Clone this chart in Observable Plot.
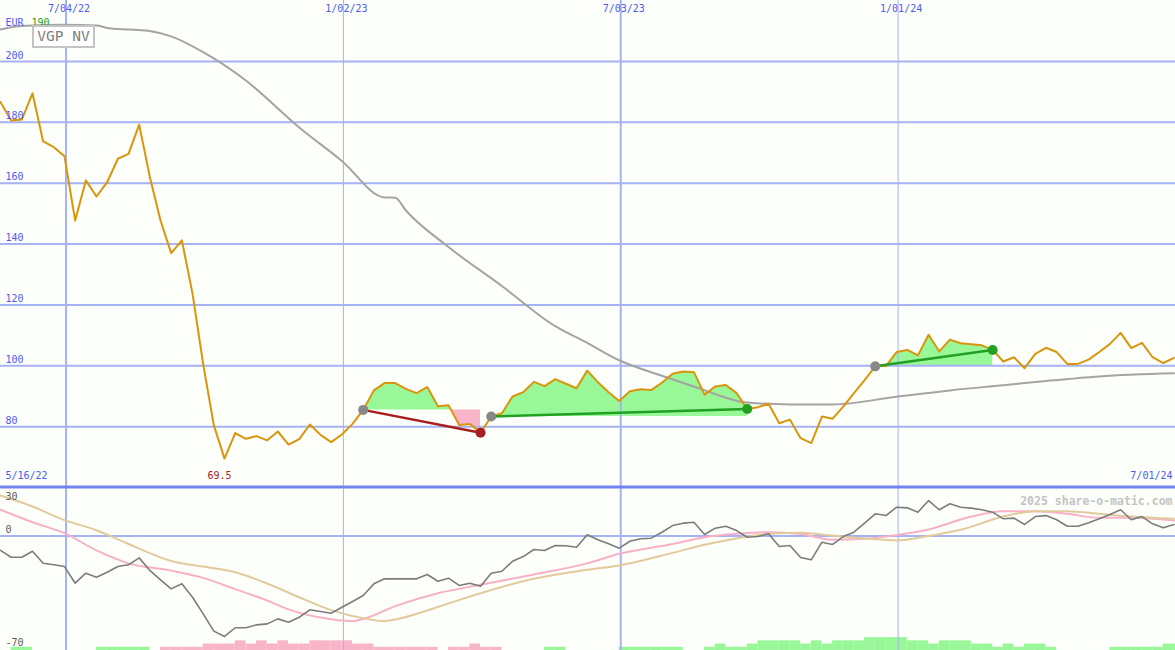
<!DOCTYPE html>
<html><head><meta charset="utf-8">
<script src="https://cdn.jsdelivr.net/npm/d3@7"></script>
<script src="https://cdn.jsdelivr.net/npm/@observablehq/plot@0.6"></script>
<style>
html,body{margin:0;padding:0;background:#fcfffa;}
#chart{position:relative;width:1175px;height:650px;overflow:hidden;background:#fcfffa;}
#chart svg{display:block;}
#badge{position:absolute;left:32px;top:25px;width:59px;height:19px;border:2px solid #c4c4c4;background:#ffffff;color:#808080;font:14.5px "DejaVu Sans Mono",monospace;line-height:19px;text-align:center;}
</style></head><body><div id="chart"><div id="badge">VGP NV</div></div>
<script>
// ---------- data ----------
const startDate = "2022-05-22";
const endDate = "2024-07-01";
const currency = "EUR";
const currencyNote = "190";
const edgeLabels = ["5/16/22", "7/01/24"];
const credit = "2025 share-o-matic.com";

const price = [186.6,180.6,180.9,189.5,173.7,171.8,168.8,147.7,160.9,155.6,
 160.3,168,169.6,179.2,162,147.7,137,141.2,123.7,100.5,
 80.4,69.5,77.9,76,76.9,75.5,78.4,74.1,75.9,80.7,
 77.3,74.9,77.4,80.9,85.5,91.9,94.3,94.3,92.4,91,
 93,86.7,87,80.5,80.9,78,83.3,84.4,89.9,91.3,
 94.7,93.3,95.6,94.1,92.6,98.4,94.6,91.3,88.4,91.6,
 92.3,92,94.4,97.4,98.1,97.9,90.5,93.2,93.7,91,
 85.8,86.4,87.5,81.1,82.3,76.2,74.6,83.3,82.6,86.6,
 91,95.3,99.8,99.9,104.5,105.2,103.4,110.2,104.7,108.6,
 107.4,107.1,106.7,105.2,101.4,102.8,99.2,103.9,105.9,104.5,
 100.6,100.6,102,104.5,107.2,110.8,105.8,107.5,102.8,100.9,
 102.6];

const maWeeks = [0,2,6,9,10,14,16,19,23,28,32,36,37,38,42,47,52,55,58,62,65,70,74,78,84,89,94,98,103,110];
const maValues = [210.5,211.6,212,211.8,211,210,208.2,203,193.7,178.3,167.3,155.3,155.2,151,139,126.2,113,107.5,101.8,96.7,93.2,87.9,87.3,87.3,89.8,91.9,93.6,95,96.5,97.5];

const oscValues = [-9,-13.2,-13.2,-9.5,-16.9,-17.9,-19,-29.3,-23.1,-25.6,
 -22.5,-19,-17.9,-13.6,-21.4,-27.2,-32.8,-29.7,-38,-48.3,
 -59,-62.3,-56.9,-56.9,-55.1,-54.5,-51.4,-53.5,-50.4,-45.8,
 -46.8,-47.9,-44.2,-40.6,-36.9,-29.7,-26.6,-26.6,-26.6,-26.6,
 -23.9,-28.1,-26.2,-30.7,-29.3,-31.2,-23.1,-21.9,-15.7,-12.8,
 -8.4,-9,-5.9,-6.1,-7,0.7,-2.4,-4.9,-7.6,-3.3,
 -1.8,-1.4,2.3,6.4,7.9,8.5,0.9,4.8,6,3.3,
 -0.8,-0.4,1.3,-6.6,-5.9,-13.4,-14.8,-3.9,-5.3,-0.4,
 2.3,7.9,13.7,12.6,17.8,17.4,14.7,21.9,16.2,19.9,
 17.8,17.2,16.2,14.7,10.6,11,7.1,12,12.6,10,
 6,6,8.1,10.6,13.3,16.2,10,12,7.5,5,
 7.1];

const pinkWeeks = [0,3,6,9,12,16,19,22,25,27,30,33,34,37,41,45,50,55,58,63,66,69,72,75,78,81,84,87,91,94,97,100,103,106,110];
const pinkValues = [16.2,8.5,1.7,-9,-17,-21.5,-26,-33,-40,-45.5,-50.6,-52.8,-51.5,-43.5,-35.5,-30.3,-23.9,-17,-11.1,-5,-0.8,1.3,2.3,1.2,-2.4,-1.8,0.6,4,12,15.3,15.3,13.7,11.2,11.2,9.5];

const tanWeeks = [0,3,6,9,12,16,19,22,25,28,31,34,36,37,41,45,50,55,58,63,66,69,72,75,78,81,84,87,90,94,97,100,103,106,110];
const tanValues = [25,18.2,9.8,3.5,-5,-15.5,-19,-22.5,-29.5,-38,-46,-51,-52.8,-51.8,-44,-35.5,-26.6,-21,-18.3,-10.5,-5.5,-1.6,1.3,2,0.2,-1.6,-2.8,0,3.8,12,15.3,15.3,13.7,12,10.6];

const barValues = [0,2,2,0,0,0,0,0,0,2,
 2,2,2,2,0,-2,-2,-2,-2,-4,
 -4,-4,-6,-4,-6,-4,-6,-4,-4,-6,
 -6,-6,-6,-4,-4,-2,-2,-2,-2,-2,
 -2,0,-2,-2,-4,-2,-2,0,0,0,
 0,2,2,0,0,0,0,0,2,2,
 2,2,2,2,0,0,2,4,2,2,
 4,6,6,6,6,4,6,4,6,6,
 6,8,8,8,8,6,6,4,6,6,
 6,4,4,2,4,2,4,4,2,0,
 0,0,0,0,2,2,2,2,2,4,
 4];

const xMajorDates = ["2022-07-04","2023-07-03"];
const xMinorDates = ["2023-01-02","2024-01-01"];
const xTickDates = ["2022-07-04","2023-01-02","2023-07-03","2024-01-01"];
const xTickLabels = ["7/04/22","1/02/23","7/03/23","1/01/24"];
const priceTicks = [80,100,120,140,160,180,200];
const priceDomain = [60,220];
const lowerDomain = [-71,30];
const lowerTopLabel = [30];
const lowerOtherLabels = [0,-70];

const signalFrom = [34,46,82];
const signalTo = [45,70,93];
const signalUp = [false,true,true];

// ---------- colours ----------
const gridBlue = "#a6b2f2", borderBlue = "#7283f0", textBlue = "#4b5cf2";
const orange = "#da950c", maGray = "#a4a4a4";
const fillGreen = "#98f898", fillPink = "#f8b4c8";
const upGreen = "#22a022", downRed = "#a81e1e", dotGray = "#888888";

// ---------- derived ----------
const toDate = s => new Date(s + "T00:00:00Z");
const weeks = price.map((_, i) => d3.utcDay.offset(toDate(startDate), 7 * i));
const xDomain = [toDate(startDate), toDate(endDate)];
const signals = signalFrom.map((f, k) => ({k, from: f, to: signalTo[k], up: signalUp[k]}));
// rows for the shaded regions, with the exact points where the price line crosses the signal baseline
const sigRows = signals.flatMap(s => {
  const base = price[s.from], rows = [];
  for (let i = s.from; i <= s.to; i++) {
    if (i > s.from) {
      const a = price[i - 1] - base, b = price[i] - base;
      if (a * b < 0) {
        const t = a / (a - b);
        rows.push({k: s.k, date: new Date(+weeks[i - 1] + t * (weeks[i] - weeks[i - 1])), base, p: base});
      }
    }
    rows.push({k: s.k, date: weeks[i], base, p: price[i]});
  }
  return rows;
});
const minIdx = d3.minIndex(price);

const baseStyle = {background: "transparent", overflow: "visible", fontFamily: "DejaVu Sans Mono, monospace", fontSize: "10px"};

const topPlot = Plot.plot({
  width: 1175, height: 487, margin: 0,
  style: baseStyle,
  x: {type: "utc", domain: xDomain, axis: null},
  y: {domain: priceDomain, axis: null},
  marks: [
    Plot.area(sigRows, {x1: "date", y1: "base", y2: d => Math.max(d.p, d.base), z: "k", fill: fillGreen}),
    Plot.area(sigRows, {x1: "date", y1: "base", y2: d => Math.min(d.p, d.base), z: "k", fill: fillPink}),
    Plot.ruleY(priceTicks, {stroke: gridBlue, strokeWidth: 2}),
    Plot.ruleX(xMajorDates.map(toDate), {stroke: gridBlue, strokeWidth: 2}),
    Plot.ruleX(xMinorDates.map(toDate), {stroke: gridBlue, strokeWidth: 1}),
    Plot.line(maWeeks, {x: w => weeks[w], y: (w, i) => maValues[i], stroke: maGray, strokeWidth: 2, curve: "monotone-x"}),
    Plot.line(price, {x: (d, i) => weeks[i], y: d => d, stroke: orange, strokeWidth: 2}),
    Plot.link(signals, {x1: s => weeks[s.from], y1: s => price[s.from], x2: s => weeks[s.to], y2: s => price[s.to], stroke: s => s.up ? upGreen : downRed, strokeWidth: 2.5}),
    Plot.dot(signals, {x: s => weeks[s.from], y: s => price[s.from], r: 5, fill: dotGray}),
    Plot.dot(signals, {filter: s => s.up, x: s => weeks[s.to], y: s => price[s.to], r: 5, fill: upGreen}),
    Plot.dot(signals, {filter: s => !s.up, x: s => weeks[s.to], y: s => price[s.to], r: 5, fill: downRed}),
    Plot.text(xTickDates, {x: d => toDate(d), text: (d, i) => xTickLabels[i], frameAnchor: "top", lineAnchor: "top", dy: 4, dx: 3, fill: textBlue}),
    Plot.text(priceTicks, {y: d => d, text: d => String(d), frameAnchor: "left", textAnchor: "start", dx: 5, dy: -6, fill: textBlue}),
    Plot.text([edgeLabels[0]], {text: d => d, frameAnchor: "bottom-left", textAnchor: "start", dx: 5, dy: -9, fill: textBlue}),
    Plot.text([edgeLabels[1]], {text: d => d, frameAnchor: "bottom-right", textAnchor: "end", dx: -3, dy: -9, fill: textBlue}),
    Plot.text([minIdx], {x: i => weeks[i], text: i => String(price[i]), frameAnchor: "bottom", dy: -9, dx: -5, fill: downRed}),
    Plot.text([currency], {text: d => d, frameAnchor: "top-left", textAnchor: "start", dx: 5, dy: 18, fill: textBlue}),
    Plot.text([currencyNote], {text: d => d, frameAnchor: "top-left", textAnchor: "start", dx: 31, dy: 18, fill: upGreen})
  ]
});

const lowerPlot = Plot.plot({
  width: 1175, height: 163, margin: 0,
  style: baseStyle,
  x: {type: "utc", domain: xDomain, axis: null},
  y: {domain: lowerDomain, axis: null},
  marks: [
    Plot.rect(barValues, {filter: d => d > 0, x1: (d, i) => weeks[i], x2: (d, i) => d3.utcDay.offset(weeks[i], 7), y1: lowerDomain[0], y2: d => lowerDomain[0] + Math.abs(d), fill: fillGreen, clip: true}),
    Plot.rect(barValues, {filter: d => d < 0, x1: (d, i) => weeks[i], x2: (d, i) => d3.utcDay.offset(weeks[i], 7), y1: lowerDomain[0], y2: d => lowerDomain[0] + Math.abs(d), fill: fillPink, clip: true}),
    Plot.ruleY([0], {stroke: gridBlue, strokeWidth: 2}),
    Plot.ruleX(xMajorDates.map(toDate), {stroke: gridBlue, strokeWidth: 2}),
    Plot.ruleX(xMinorDates.map(toDate), {stroke: gridBlue, strokeWidth: 1}),
    Plot.line(pinkWeeks, {x: w => weeks[w], y: (w, i) => pinkValues[i], stroke: "#f8b0c8", strokeWidth: 2, curve: "monotone-x"}),
    Plot.line(tanWeeks, {x: w => weeks[w], y: (w, i) => tanValues[i], stroke: "#e2ca9c", strokeWidth: 2, curve: "monotone-x"}),
    Plot.line(oscValues, {x: (d, i) => weeks[i], y: d => d, stroke: "#7c7c7c", strokeWidth: 1.6}),
    Plot.ruleY([lowerDomain[1]], {stroke: borderBlue, strokeWidth: 3, dy: -0.5}),
    Plot.text(lowerTopLabel, {y: d => d, text: d => String(d), frameAnchor: "left", textAnchor: "start", dx: 5, dy: 9, fill: "#5a5a5a"}),
    Plot.text(lowerOtherLabels, {y: d => d, text: d => String(d), frameAnchor: "left", textAnchor: "start", dx: 5, dy: -6, fill: "#5a5a5a"}),
    Plot.text([credit], {text: d => d, frameAnchor: "top-right", textAnchor: "end", dx: -3, dy: 9, fill: "#c4c4c4", fontWeight: "bold", fontSize: 11.5})
  ]
});

const chart = document.getElementById("chart");
chart.insertBefore(lowerPlot, chart.firstChild);
chart.insertBefore(topPlot, chart.firstChild);
</script></body></html>
